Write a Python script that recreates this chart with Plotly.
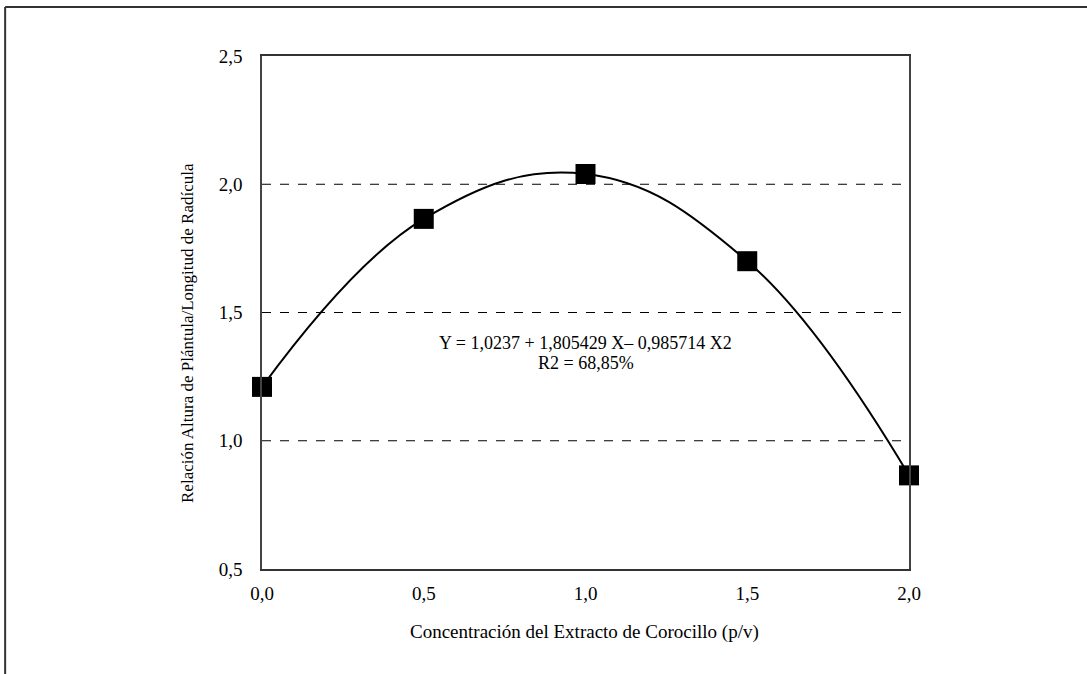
import plotly.graph_objects as go

concentracion = [0.0, 0.5, 1.0, 1.5, 2.0]
relacion = [1.21, 1.865, 2.04, 1.70, 0.865]
y_ticks = [0.5, 1.0, 1.5, 2.0, 2.5]
y_tick_labels = ["0,5", "1,0", "1,5", "2,0", "2,5"]
x_ticks = [0.0, 0.5, 1.0, 1.5, 2.0]
x_tick_labels = ["0,0", "0,5", "1,0", "1,5", "2,0"]
grid_levels = [1.0, 1.5, 2.0]

FONT = "Liberation Serif, Times New Roman, serif"

fig = go.Figure()

fig.add_trace(go.Scatter(
    x=concentracion, y=relacion, mode="lines",
    line=dict(color="black", width=2, shape="spline", smoothing=1.15),
    hoverinfo="skip", showlegend=False,
))
fig.add_trace(go.Scatter(
    x=concentracion, y=relacion, mode="markers",
    marker=dict(symbol="square", size=20, color="black"),
    showlegend=False, cliponaxis=False,
))

for g in grid_levels:
    fig.add_shape(type="line", xref="paper", x0=0, x1=1, yref="y", y0=g, y1=g,
                  line=dict(color="black", width=1, dash="dash"), layer="below")

# outer chart border (top and left visible)
fig.add_shape(type="line", xref="paper", yref="paper", x0=-0.397, x1=1.5, y0=1.0955, y1=1.0955,
              line=dict(color="#333333", width=2))
fig.add_shape(type="line", xref="paper", yref="paper", x0=-0.397, x1=-0.397, y0=1.0955, y1=-0.5,
              line=dict(color="#333333", width=2))

fig.add_annotation(x=1.0, y=1.381, xref="x", yref="y", xanchor="center", yanchor="middle",
                   text="Y = 1,0237 + 1,805429 X– 0,985714 X2", showarrow=False,
                   font=dict(family=FONT, size=18, color="black"))
fig.add_annotation(x=1.0, y=1.303, xref="x", yref="y", xanchor="center", yanchor="middle",
                   text="R2 = 68,85%", showarrow=False,
                   font=dict(family=FONT, size=18, color="black"))

fig.add_annotation(x=-0.116, y=0.46, xref="paper", yref="paper", xanchor="center", yanchor="middle",
                   text="Relación Altura de Plántula/Longitud de Radícula", textangle=-90,
                   showarrow=False, font=dict(family=FONT, size=17, color="black"))
fig.add_annotation(x=0.499, y=-0.123, xref="paper", yref="paper", xanchor="center", yanchor="middle",
                   text="Concentración del Extracto de Corocillo (p/v)",
                   showarrow=False, font=dict(family=FONT, size=19, color="black"))

fig.update_layout(
    width=1087, height=674,
    margin=dict(l=262, r=178, t=56, b=105),
    paper_bgcolor="white", plot_bgcolor="white",
    font=dict(family=FONT, size=19, color="black"),
    xaxis=dict(range=[0, 2], tickvals=x_ticks, ticktext=x_tick_labels,
               showgrid=False, zeroline=False, showline=True, linecolor="#333333",
               linewidth=1.5, mirror=True, ticks="", ticklabelstandoff=6),
    yaxis=dict(range=[0.5, 2.5], tickvals=y_ticks, ticktext=y_tick_labels,
               showgrid=False, zeroline=False, showline=True, linecolor="#444444",
               linewidth=1.5, mirror=True, ticks="", ticklabelstandoff=14),
)

fig.write_html("out.html")
